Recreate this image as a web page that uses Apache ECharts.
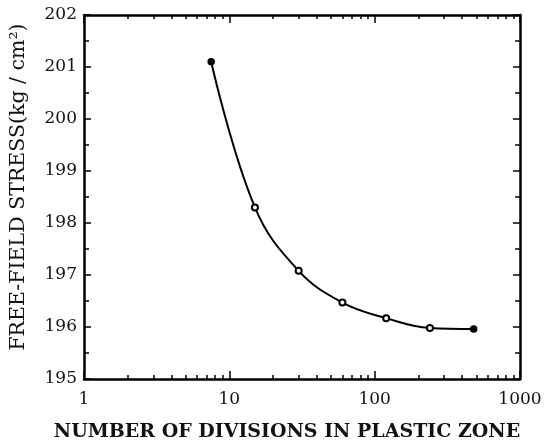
<!DOCTYPE html>
<html>
<head>
<meta charset="utf-8">
<script src="https://cdn.jsdelivr.net/npm/echarts@6/dist/echarts.min.js"></script>
<style>html,body{margin:0;padding:0;background:#fff;}#c{width:550px;height:447px;}</style>
</head>
<body>
<div id="c"></div>
<script>
// Data
const divisions = [7.5, 15, 30, 60, 120, 240, 480];
const stress = [201.1, 198.3, 197.08, 196.47, 196.17, 195.98, 195.96];
const xMajorTicks = [1, 10, 100, 1000];
const xMinorTicks = [2,3,4,5,6,7,8,9,20,30,40,50,60,70,80,90,200,300,400,500,600,700,800,900];
const yTicks = [195, 196, 197, 198, 199, 200, 201, 202];
const xTitle = 'NUMBER OF DIVISIONS IN PLASTIC ZONE';
const yTitle = 'FREE-FIELD STRESS(kg / cm\u00B2)';

const font = 'DejaVu Serif';
const chart = echarts.init(document.getElementById('c'), null, {renderer: 'canvas'});

function xAxisCfg(pos, ticks, len, showLabel, showLine, name) {
  return {
    type: 'log', logBase: 10, min: 1, max: 1000, position: pos,
    name: name || '', nameLocation: 'middle', nameGap: 44,
    nameTextStyle: {fontFamily: font, fontSize: 19, fontWeight: 'bold', color: '#111', padding: [0, 30, 0, 0]},
    axisLine: {show: showLine, lineStyle: {color: '#000', width: 2.5}},
    axisTick: {show: true, inside: true, length: len, lineStyle: {color: '#000', width: 1.5}, customValues: ticks},
    axisLabel: {show: showLabel, fontFamily: font, fontSize: 17, color: '#111', margin: 12, customValues: ticks,
      formatter: function (v) { return String(Math.round(v)); }},
    splitLine: {show: false}
  };
}
function yAxisCfg(pos, showLabel, name) {
  return {
    type: 'value', min: 195, max: 202, interval: 1, position: pos,
    name: name || '', nameLocation: 'middle', nameGap: 55,
    nameTextStyle: {fontFamily: font, fontSize: 20.5, color: '#111', padding: [0, 0, 0, 20]},
    axisLine: {show: true, lineStyle: {color: '#000', width: 2.5}},
    axisTick: {show: true, inside: true, length: 7, lineStyle: {color: '#000', width: 1.5}},
    minorTick: {show: true, splitNumber: 2, length: 5, lineStyle: {color: '#000', width: 1.5}},
    axisLabel: {show: showLabel, fontFamily: font, fontSize: 17, color: '#111', margin: 7,
      customValues: yTicks},
    splitLine: {show: false}
  };
}

chart.setOption({
  animation: false,
  backgroundColor: '#fff',
  grid: {left: 84, top: 15, right: 30, bottom: 68, containLabel: false},
  xAxis: [
    xAxisCfg('bottom', xMajorTicks, 8, true, true, xTitle),
    xAxisCfg('bottom', xMinorTicks, 4, false, false),
    xAxisCfg('top', xMajorTicks, 8, false, true),
    xAxisCfg('top', xMinorTicks, 4, false, false)
  ],
  yAxis: [
    yAxisCfg('left', true, yTitle),
    yAxisCfg('right', false)
  ],
  series: [{
    type: 'line',
    xAxisIndex: 0, yAxisIndex: 0,
    data: divisions.map((d, i) => [d, stress[i]]),
    smooth: 0.4,
    symbol: function (v, p) { return (p.dataIndex === 0 || p.dataIndex === divisions.length - 1) ? 'circle' : 'emptyCircle'; },
    symbolSize: 6,
    lineStyle: {color: '#000', width: 2},
    itemStyle: {color: '#000', borderColor: '#000', borderWidth: 1.5}
  }]
});
</script>
</body>
</html>
